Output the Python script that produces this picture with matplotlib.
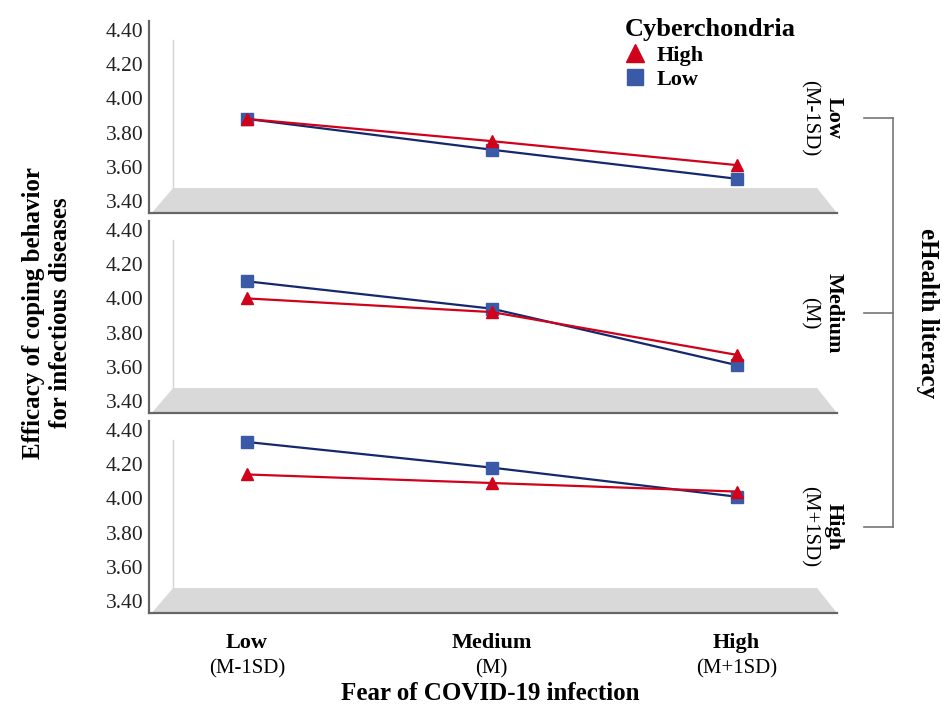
import matplotlib.pyplot as plt
from matplotlib.patches import Polygon
from matplotlib.lines import Line2D

plt.rcParams['font.family'] = ['Liberation Serif', 'DejaVu Serif']

# data
fear_levels = ['Low', 'Medium', 'High']
fear_sub = ['(M-1SD)', '(M)', '(M+1SD)']
ehealth_levels = ['Low', 'Medium', 'High']
ehealth_sub = ['(M-1SD)', '(M)', '(M+1SD)']

cyber_high = [
    [3.88, 3.75, 3.61],
    [4.00, 3.92, 3.67],
    [4.14, 4.09, 4.04],
]
cyber_low = [
    [3.88, 3.70, 3.53],
    [4.10, 3.94, 3.61],
    [4.33, 4.18, 4.01],
]
yticks = [3.40, 3.60, 3.80, 4.00, 4.20, 4.40]

red = '#d0021b'
navy = '#14286e'
blue_mk = '#3a5aa8'

W, H = 942, 711
fig = plt.figure(figsize=(W / 100, H / 100), dpi=100)

x = list(range(len(fear_levels)))
label_y = [118, 313, 527]
axes = []
for i in range(3):
    top = 21 + 200 * i
    ax = fig.add_axes([149 / W, 1 - (top + 192) / H, 688 / W, 192 / H])
    axes.append(ax)
    ax.set_xlim(-0.40, 2.41)
    ax.set_ylim(3.40 - 12 / 171, 4.40 + 9 / 171)

    # pseudo 3D floor and back wall line
    floor = Polygon([(0.004, 0), (0.035, 0.13), (0.971, 0.13), (1.0, 0)],
                    closed=True, transform=ax.transAxes, facecolor='#d9d9d9',
                    edgecolor='none', zorder=0)
    ax.add_patch(floor)
    ax.plot([0.035, 0.035], [0.13, 0.90], transform=ax.transAxes,
            color='#d4d4d4', lw=1, zorder=0)

    ax.plot(x, cyber_low[i], color=navy, lw=1.6, marker='s', ms=8,
            mfc=blue_mk, mec=blue_mk, zorder=3)
    ax.plot(x, cyber_high[i], color=red, lw=1.6, marker='^', ms=8,
            mfc=red, mec=red, zorder=4)

    ax.set_yticks(yticks)
    ax.set_yticklabels(['%.2f' % v for v in yticks])
    ax.tick_params(axis='y', length=0, pad=4, labelsize=15.5, colors='#222222')
    ax.set_xticks([])
    for s in ['top', 'right']:
        ax.spines[s].set_visible(False)
    for s in ['left', 'bottom']:
        ax.spines[s].set_color('#666666')
        ax.spines[s].set_linewidth(1.6)

    # panel labels on the right
    cy = 1 - label_y[i] / H
    fig.text(834 / W, cy, ehealth_levels[i], rotation=-90, ha='center', va='center',
             fontsize=16, fontweight='bold')
    fig.text(809 / W, cy, ehealth_sub[i], rotation=-90, ha='center', va='center',
             fontsize=15)

# x labels under bottom panel
for j, lab in enumerate(fear_levels):
    axes[2].annotate(lab, xy=(j, 0), xycoords=('data', 'axes fraction'),
                     xytext=(0, -21.5), textcoords='offset points', ha='center',
                     va='center', fontsize=16, fontweight='bold')
    axes[2].annotate(fear_sub[j], xy=(j, 0), xycoords=('data', 'axes fraction'),
                     xytext=(0, -40), textcoords='offset points', ha='center',
                     va='center', fontsize=15)

fig.text(490 / W, 1 - 694 / H, 'Fear of COVID-19 infection', ha='center',
         va='center', fontsize=18, fontweight='bold')
fig.text(47 / W, 1 - 313 / H, 'Efficacy of coping behavior\nfor infectious diseases',
         rotation=90, ha='center', va='center', fontsize=18, fontweight='bold',
         linespacing=1.25)

# bracket for eHealth literacy
bx = 893
fig.add_artist(Line2D([bx / W, bx / W], [1 - label_y[0] / H, 1 - label_y[2] / H],
                      color='#777777', lw=1.2))
for yy in label_y:
    fig.add_artist(Line2D([864 / W, bx / W], [1 - yy / H, 1 - yy / H],
                          color='#777777', lw=1.2))
fig.text(928 / W, 1 - 313 / H, 'eHealth literacy', rotation=-90, ha='center',
         va='center', fontsize=18, fontweight='bold')

# legend
handles = [Line2D([], [], ls='none', marker='^', ms=13, color=red),
           Line2D([], [], ls='none', marker='s', ms=12, color=blue_mk)]
leg = fig.legend(handles, ['High', 'Low'], title='Cyberchondria',
                 loc='upper left', bbox_to_anchor=(614 / W, 1 - 7 / H),
                 frameon=False, fontsize=16, handlelength=0.9, handletextpad=0.5,
                 labelspacing=0.18, borderpad=0, alignment='left',
                 title_fontproperties={'weight': 'bold', 'size': 19})
for t in leg.get_texts():
    t.set_fontweight('bold')

fig.savefig('out.png', dpi=100)
